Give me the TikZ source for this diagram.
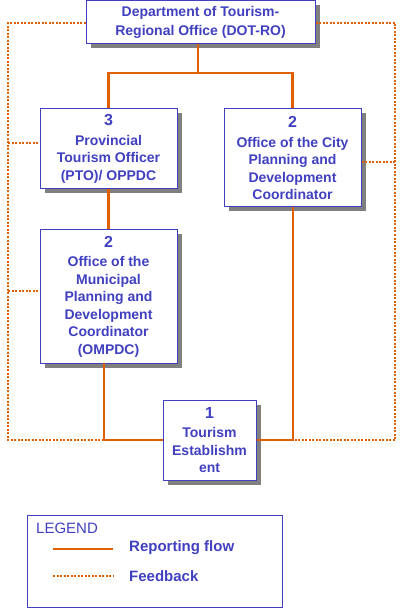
\documentclass[tikz,border=0pt]{standalone}
\usepackage{fontspec}
\setmainfont{Liberation Sans}
\usetikzlibrary{shadows}
\definecolor{obl}{HTML}{4040C0}
\definecolor{ora}{HTML}{E06000}
\definecolor{shd}{HTML}{808080}
\begin{document}
\begin{tikzpicture}[x=1pt,y=-1pt,
 box/.style={draw=obl, line width=1pt, fill=white, text=obl, align=center, inner sep=0pt,
   font=\fontsize{14}{17.5}\selectfont\bfseries,
   drop shadow={shadow xshift=4.5pt, shadow yshift=-4.5pt, fill=shd, opacity=1}},
 nm/.style={font=\fontsize{16}{16}\selectfont\bfseries},
 rep/.style={draw=ora, line width=2.5pt},
 fb/.style={draw=ora, line width=2pt, dash pattern=on 2pt off 1.5pt},
 lgtext/.style={text=obl, anchor=west, inner sep=0pt, font=\fontsize{15}{18}\selectfont\bfseries}]
\useasboundingbox (0,0) rectangle (402,609);
% boxes
\node[box, minimum width=229pt, minimum height=43pt] (top) at (200.5,22.5)
  {Department of Tourism-\\[1pt]Regional Office (DOT-RO)};
\node[box, minimum width=137pt, minimum height=80pt] (pto) at (108.5,149)
  {{\fontsize{16}{16}\selectfont 3}\\[2pt]Provincial\\Tourism Officer\\(PTO)/ OPPDC};
\node[box, minimum width=137pt, minimum height=98pt] (city) at (292.5,158)
  {{\fontsize{16}{16}\selectfont 2}\\[2pt]Office of the City\\Planning and\\Development\\Coordinator};
\node[box, minimum width=137pt, minimum height=133pt] (ompdc) at (108.5,296.5)
  {{\fontsize{16}{16}\selectfont 2}\\[2pt]Office of the\\Municipal\\Planning and\\Development\\Coordinator\\(OMPDC)};
\node[box, minimum width=93pt, minimum height=80pt] (te) at (209.5,440)
  {{\fontsize{16}{16}\selectfont 1}\\[2pt]Tourism\\Establishm\\ent};
% reporting flow
\coordinate (j1) at (198,73);
\draw[rep] (top.south -| j1) -- (j1) -| (pto.north);
\draw[rep] (j1) -| (city.north);
\draw[rep] (pto.south) -- (ompdc.south |- ompdc.north);
\coordinate (ob) at (104,363);
\coordinate (lj) at (104,440);
\coordinate (rj) at (293,440);
\draw[rep] (ob) -- (lj) -- (te.west);
\draw[rep] (city.south -| rj) -- (rj) -- (te.east);
% feedback
\coordinate (fl0) at (8,23);
\coordinate (fl1) at (8,440);
\coordinate (fr0) at (395,23);
\coordinate (fr1) at (395,440);
\draw[fb] (top.west |- fl0) -- (fl0) -- (fl1) -- (lj);
\draw[fb] (top.east |- fr0) -- (fr0) -- (fr1) -- (rj);
\coordinate (fbp) at (8,143);
\coordinate (fbo) at (8,291);
\coordinate (fbc) at (395,162);
\draw[fb] (fbp) -- (fbp -| pto.west);
\draw[fb] (fbo) -- (fbo -| ompdc.west);
\draw[fb] (fbc) -- (fbc -| city.east);
% legend
\node[draw=obl, line width=1pt, minimum width=255pt, minimum height=92pt, inner sep=0pt] (lg) at (154.5,561) {};
\node[text=obl, anchor=west, inner sep=0pt, font=\fontsize{15}{18}\selectfont] (lgt) at (36,528) {LEGEND};
\coordinate (l1a) at (53,549);
\coordinate (l1b) at (113,549);
\coordinate (l2a) at (53,576);
\coordinate (l2b) at (113,576);
\draw[rep] (l1a) -- (l1b);
\draw[fb] (l2a) -- (l2b);
\node[lgtext] (lrep) at (129,548) {Reporting flow};
\node[lgtext] (lfb) at (129,576) {Feedback};
\end{tikzpicture}
\end{document}
